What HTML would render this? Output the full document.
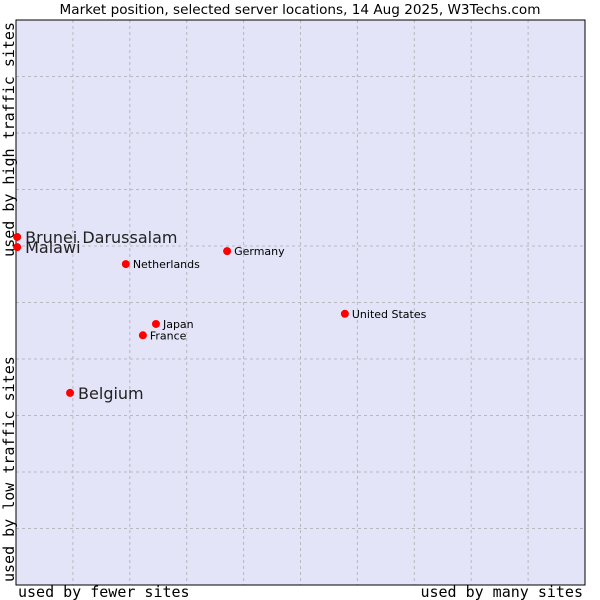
<!DOCTYPE html>
<html><head><meta charset="utf-8"><style>
body{margin:0;background:#fff;}
svg{display:block;font-family:"DejaVu Sans","Liberation Sans",sans-serif;}
</style></head><body>
<svg id="chart" width="600" height="600">
<text x="300" y="14" text-anchor="middle" font-size="13.6" fill="#000">Market position, selected server locations, 14 Aug 2025, W3Techs.com</text>
<rect x="16" y="20" width="569" height="565" fill="#e3e4f8"/>
<g id="grid"></g>
<rect x="16" y="20" width="569" height="565" fill="none" stroke="#000"/>
<g id="points"></g>
<text x="18" y="597" font-family="DejaVu Sans Mono,monospace" font-size="15">used by fewer sites</text>
<text x="583" y="597" text-anchor="end" font-family="DejaVu Sans Mono,monospace" font-size="15">used by many sites</text>
<text transform="translate(14,582) rotate(-90)" font-family="DejaVu Sans Mono,monospace" font-size="15">used by low traffic sites</text>
<text transform="translate(14,22) rotate(-90)" text-anchor="end" font-family="DejaVu Sans Mono,monospace" font-size="15">used by high traffic sites</text>
</svg>
<script>
const names=["Brunei Darussalam","Malawi","Netherlands","Germany","United States","Japan","France","Belgium"];
const xVals=[0.02,0.02,1.93,3.71,5.78,2.46,2.23,0.95];
const yVals=[6.16,5.98,5.68,5.91,4.80,4.62,4.42,3.40];
const bigLabel=[true,true,false,false,false,false,false,true];
const NS="http://www.w3.org/2000/svg";
function sx(v){return 16+v*56.9;}
function sy(v){return 585-v*56.5;}
const grid=document.getElementById('grid');
for(let i=1;i<10;i++){
  const l=document.createElementNS(NS,'line');
  l.setAttribute('x1',sx(i));l.setAttribute('x2',sx(i));l.setAttribute('y1',20);l.setAttribute('y2',585);
  l.setAttribute('stroke','#b8b8c0');l.setAttribute('stroke-dasharray','3,3');
  
  
  grid.appendChild(l);
  const h=document.createElementNS(NS,'line');
  h.setAttribute('y1',sy(i));h.setAttribute('y2',sy(i));h.setAttribute('x1',16);h.setAttribute('x2',585);
  h.setAttribute('stroke','#b8b8c0');h.setAttribute('stroke-dasharray','3,3');
  
  
  grid.appendChild(h);
}
const pts=document.getElementById('points');
names.forEach((n,i)=>{
  const x=sx(xVals[i]),y=sy(yVals[i]);
  const c=document.createElementNS(NS,'circle');
  c.setAttribute('cx',x);c.setAttribute('cy',y);c.setAttribute('r',4);c.setAttribute('fill','#f00');
  
  
  pts.appendChild(c);
  const t=document.createElementNS(NS,'text');
  t.setAttribute('x',x+(bigLabel[i]?8:7));t.setAttribute('y',y+(bigLabel[i]?6:4));
  t.setAttribute('font-size',bigLabel[i]?16:11);
  t.setAttribute('fill',bigLabel[i]?'#222':'#000');
  t.textContent=n;
  
  
  pts.appendChild(t);
});
</script>
</body></html>
